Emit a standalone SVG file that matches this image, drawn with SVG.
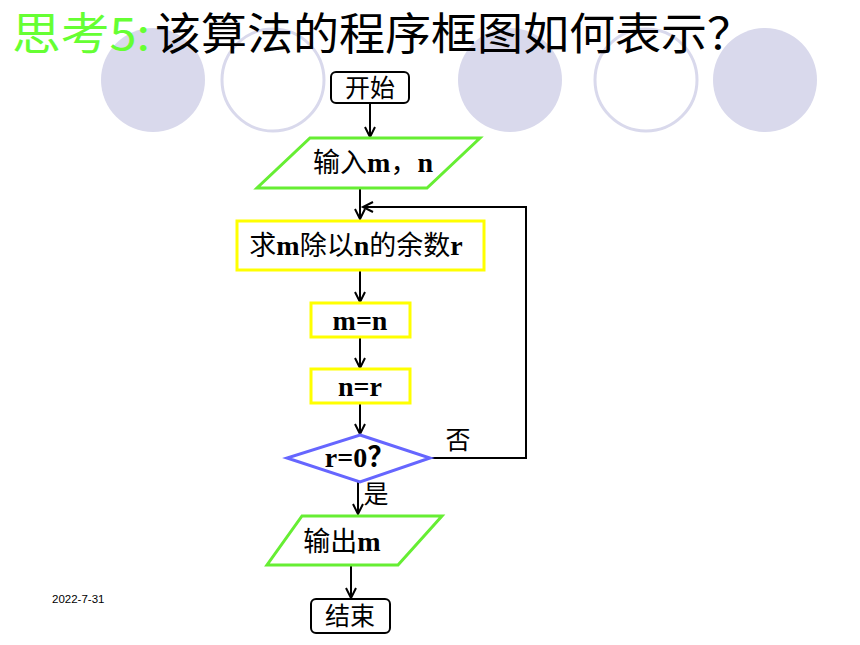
<svg xmlns="http://www.w3.org/2000/svg" width="860" height="645" viewBox="0 0 860 645">
<defs>
<marker id="arr" markerWidth="14" markerHeight="14" refX="11" refY="6" orient="auto" markerUnits="userSpaceOnUse">
<path d="M1,1 L11,6 L1,11" fill="none" stroke="#000" stroke-width="2"/>
</marker>
<style>
.bg{fill:#d9d9ec;stroke:none}
.ring{fill:#fff;stroke:#d9d9ec;stroke-width:3}
.term{fill:#fff;stroke:#000;stroke-width:2}
.io{fill:#fff;stroke:#66ee33;stroke-width:3}
.proc{fill:#fff;stroke:#ffff00;stroke-width:3}
.dec{fill:#fff;stroke:#6666ff;stroke-width:3}
.con{fill:none;stroke:#000;stroke-width:2}
.t{font-family:"Liberation Serif","Noto Sans CJK SC",serif;font-size:28px;fill:#000;text-anchor:middle}
.t tspan.b{font-weight:bold}
.t tspan.c{font-family:"Noto Sans CJK SC",sans-serif;font-weight:normal;font-size:27px}
.ts{font-family:"Noto Sans CJK SC",sans-serif;font-size:25px;fill:#000;text-anchor:middle}
</style>
</defs>
<rect width="860" height="645" fill="#fff"/>
<g id="decor">
<circle class="bg" cx="153" cy="80" r="52"/>
<circle class="ring" cx="273" cy="80" r="51"/>
<circle class="bg" cx="510" cy="80" r="52"/>
<circle class="ring" cx="646" cy="80" r="51"/>
<circle class="bg" cx="765" cy="80" r="52"/>
</g>
<g id="title">
<text x="12" y="50" font-family="Noto Sans CJK SC,sans-serif" font-size="44" fill="#66ff33" textLength="138" lengthAdjust="spacingAndGlyphs">思考5:</text>
<text x="155" y="50" font-family="Noto Sans CJK SC,sans-serif" font-size="44" fill="#000" textLength="598" lengthAdjust="spacingAndGlyphs">该算法的程序框图如何表示？</text>
</g>
<g id="connectors">
<line class="con" x1="370" y1="103" x2="370" y2="137" marker-end="url(#arr)"/>
<line class="con" x1="360" y1="188" x2="360" y2="219" marker-end="url(#arr)"/>
<line class="con" x1="360" y1="270" x2="360" y2="302" marker-end="url(#arr)"/>
<line class="con" x1="360" y1="337" x2="360" y2="368" marker-end="url(#arr)"/>
<line class="con" x1="360" y1="403" x2="360" y2="434" marker-end="url(#arr)"/>
<polyline class="con" points="430,458 526,458 526,207 363,207" marker-end="url(#arr)"/>
<line class="con" x1="358" y1="482" x2="358" y2="514" marker-end="url(#arr)"/>
<line class="con" x1="351" y1="565" x2="351" y2="598" marker-end="url(#arr)"/>
<text x="458" y="449" class="ts" font-size="23">否</text>
<text x="376" y="503" class="ts" font-size="23">是</text>
</g>
<g id="start">
<rect class="term" x="331" y="72" width="78" height="31" rx="5"/>
<text x="370" y="97" class="ts">开始</text>
</g>
<g id="input">
<polygon class="io" points="310,138 480,138 427,188 257,188"/>
<text x="373" y="172" class="t"><tspan class="c">输入</tspan><tspan class="b">m</tspan><tspan class="c">，</tspan><tspan class="b">n</tspan></text>
</g>
<g id="remainder">
<rect class="proc" x="237" y="221" width="247" height="49"/>
<text x="356" y="255" class="t"><tspan class="c">求</tspan><tspan class="b">m</tspan><tspan class="c">除以</tspan><tspan class="b">n</tspan><tspan class="c">的余数</tspan><tspan class="b">r</tspan></text>
</g>
<g id="assign-m">
<rect class="proc" x="311" y="303" width="99" height="34"/>
<text x="360" y="330" class="t" font-weight="bold">m=n</text>
</g>
<g id="assign-n">
<rect class="proc" x="311" y="369" width="99" height="34"/>
<text x="360" y="396" class="t" font-weight="bold">n=r</text>
</g>
<g id="decision">
<polygon class="dec" points="360,435 430,458 360,482 287,458"/>
<text x="360" y="467" class="t" font-size="25" font-weight="bold">r=0？</text>
</g>
<g id="output">
<polygon class="io" points="302,516 442,516 398,565 267,565"/>
<text x="342" y="551" class="t"><tspan class="c">输出</tspan><tspan class="b">m</tspan></text>
</g>
<g id="end">
<rect class="term" x="311" y="599" width="79" height="34" rx="5"/>
<text x="350" y="625" class="ts">结束</text>
</g>
<text x="52" y="603" font-family="Liberation Sans,sans-serif" font-size="11.5" fill="#000">2022-7-31</text>
</svg>
